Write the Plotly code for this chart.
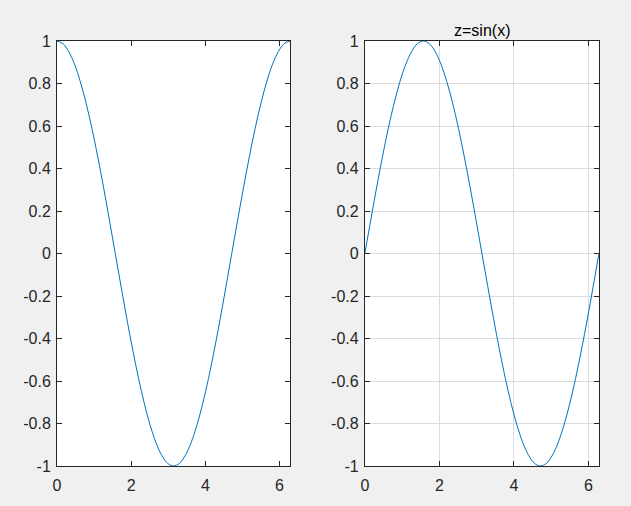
import plotly.graph_objects as go
from plotly.subplots import make_subplots

# Sample positions (x) and values
x_vals = [0.000, 0.157, 0.314, 0.471, 0.628, 0.785, 0.942, 1.100, 1.257, 1.414,
          1.571, 1.728, 1.885, 2.042, 2.199, 2.356, 2.513, 2.670, 2.827, 2.985,
          3.142, 3.299, 3.456, 3.613, 3.770, 3.927, 4.084, 4.241, 4.398, 4.555,
          4.712, 4.869, 5.027, 5.184, 5.341, 5.498, 5.655, 5.812, 5.969, 6.126,
          6.283]
y_left = [1.000, 0.988, 0.951, 0.891, 0.809, 0.707, 0.588, 0.454, 0.309, 0.156,
          0.000, -0.156, -0.309, -0.454, -0.588, -0.707, -0.809, -0.891, -0.951, -0.988,
          -1.000, -0.988, -0.951, -0.891, -0.809, -0.707, -0.588, -0.454, -0.309, -0.156,
          0.000, 0.156, 0.309, 0.454, 0.588, 0.707, 0.809, 0.891, 0.951, 0.988,
          1.000]
y_right = [0.000, 0.156, 0.309, 0.454, 0.588, 0.707, 0.809, 0.891, 0.951, 0.988,
           1.000, 0.988, 0.951, 0.891, 0.809, 0.707, 0.588, 0.454, 0.309, 0.156,
           0.000, -0.156, -0.309, -0.454, -0.588, -0.707, -0.809, -0.891, -0.951, -0.988,
           -1.000, -0.988, -0.951, -0.891, -0.809, -0.707, -0.588, -0.454, -0.309, -0.156,
           0.000]
right_title = "z=sin(x)"
x_ticks = [0, 2, 4, 6]
y_ticks = [1, 0.8, 0.6, 0.4, 0.2, 0, -0.2, -0.4, -0.6, -0.8, -1]
y_tick_text = ["1", "0.8", "0.6", "0.4", "0.2", "0", "-0.2", "-0.4", "-0.6", "-0.8", "-1"]

line_color = "#0072BD"
axis_color = "#262626"
font_family = "Liberation Sans, Arial, sans-serif"

fig = make_subplots(rows=1, cols=2, horizontal_spacing=0.1)
fig.add_trace(go.Scatter(x=x_vals, y=y_left, mode="lines", line=dict(color=line_color, width=1, shape="spline"),
                         showlegend=False, hoverinfo="skip"), row=1, col=1)
fig.add_trace(go.Scatter(x=x_vals, y=y_right, mode="lines", line=dict(color=line_color, width=1, shape="spline"),
                         showlegend=False, hoverinfo="skip"), row=1, col=2)

common_x = dict(range=[0, 6.2832], tickvals=x_ticks, ticks="inside", ticklen=5, tickcolor=axis_color,
                showline=True, linecolor=axis_color, linewidth=1, mirror="ticks", zeroline=False,
                ticklabelstandoff=5,
                tickfont=dict(family=font_family, size=16, color=axis_color))
common_y = dict(range=[-1, 1], tickvals=y_ticks, ticktext=y_tick_text, ticks="inside", ticklen=5, tickcolor=axis_color,
                showline=True, linecolor=axis_color, linewidth=1, mirror="ticks", zeroline=False,
                ticklabelstandoff=2,
                tickfont=dict(family=font_family, size=16, color=axis_color))

fig.update_xaxes(**common_x, showgrid=False, domain=[0, 0.43], row=1, col=1)
fig.update_yaxes(**common_y, showgrid=False, row=1, col=1)
fig.update_xaxes(**common_x, showgrid=True, gridcolor="#dcdcdc", gridwidth=1, domain=[0.568, 1], row=1, col=2)
fig.update_yaxes(**common_y, showgrid=True, gridcolor="#dcdcdc", gridwidth=1, row=1, col=2)

fig.add_annotation(text=right_title, xref="x2 domain", yref="paper", x=0.5, y=1, xanchor="center",
                   yanchor="bottom", showarrow=False, yshift=0,
                   font=dict(family=font_family, size=16, color="#000000"))

fig.update_layout(width=631, height=506, paper_bgcolor="#f0f0f0", plot_bgcolor="#ffffff",
                  margin=dict(l=57, r=32, t=41, b=38), showlegend=False)

fig.write_html("out.html", config={"displayModeBar": False},
               post_script="document.body.style.margin='0';document.body.style.background='#f0f0f0';")
